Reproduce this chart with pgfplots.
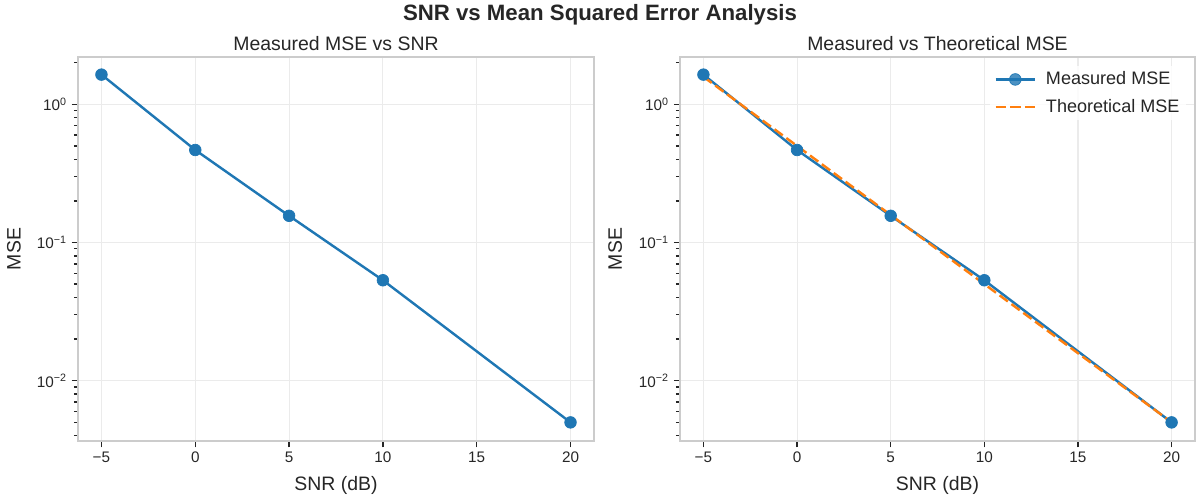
\documentclass[border=0pt]{standalone}
\usepackage{fontspec}
\setmainfont{Liberation Sans}
\usepackage{pgfplots}
\pgfplotsset{compat=1.18}
\definecolor{mblue}{HTML}{1F77B4}
\definecolor{morange}{HTML}{FF7F0E}
\definecolor{txt}{HTML}{262626}
\definecolor{framec}{HTML}{CCCCCC}
\definecolor{gridc}{HTML}{EBEBEB}
\pgfplotstableread{
snr mse
-5 1.64
0 0.467
5 0.156
10 0.0533
20 0.00499
}\measured
\pgfplotstableread{
snr mse
-5 1.5811
0 0.5
5 0.15811
10 0.05
20 0.005
}\theory
\begin{document}
\begin{tikzpicture}
\useasboundingbox (0,0) rectangle (864pt,360pt);
\begin{axis}[
    at={(56.16pt,42.48pt)}, title={Measured MSE vs SNR},
    scale only axis,
    width=371.5pt, height=276.5pt,
    anchor=south west,
    ymode=log,
    xmin=-6.25, xmax=21.25,
    ymin=0.00366, ymax=2.2,
    xtick={-5,0,5,10,15,20},
    xticklabels={−5,0,5,10,15,20},
    ytick={0.01,0.1,1},
    yticklabels={10\textsuperscript{−2},10\textsuperscript{−1},10\textsuperscript{0}},
    minor ytick={0.004,0.005,0.006,0.007,0.008,0.009,0.02,0.03,0.04,0.05,0.06,0.07,0.08,0.09,0.2,0.3,0.4,0.5,0.6,0.7,0.8,0.9,2},
    tick align=outside,
    major tick length=4.5pt,
    minor tick length=3pt,
    tick style={color=txt, line width=0.9pt},
    axis line style={framec, line width=1.2pt},
    xtick pos=bottom, ytick pos=left,
    xmajorgrids, ymajorgrids,
    major grid style={gridc, line width=0.8pt},
    ticklabel style={font=\fontsize{11}{13}\selectfont, text=txt},
    label style={font=\fontsize{14}{16}\selectfont, text=txt},
    title style={font=\fontsize{14}{16}\selectfont, text=txt, at={(axis description cs:0.5,1.036)}, anchor=center, yshift=-6pt},
    xlabel style={at={(axis description cs:0.5,-0.117)}, anchor=center},
    ylabel style={at={(axis description cs:-0.124,0.5)}, anchor=center},
    xlabel={SNR (dB)}, ylabel={MSE},
]
\addplot[mblue, line width=1.75pt, mark=*, mark size=4.2pt, mark options={solid, fill=mblue, draw=mblue, line width=0.5pt}] table[x=snr, y=mse] {\measured};
\end{axis}
\begin{axis}[
    at={(489.6pt,42.48pt)}, title={Measured vs Theoretical MSE},
    scale only axis,
    width=370.8pt, height=276.5pt,
    anchor=south west,
    ymode=log,
    xmin=-6.25, xmax=21.25,
    ymin=0.00366, ymax=2.2,
    xtick={-5,0,5,10,15,20},
    xticklabels={−5,0,5,10,15,20},
    ytick={0.01,0.1,1},
    yticklabels={10\textsuperscript{−2},10\textsuperscript{−1},10\textsuperscript{0}},
    minor ytick={0.004,0.005,0.006,0.007,0.008,0.009,0.02,0.03,0.04,0.05,0.06,0.07,0.08,0.09,0.2,0.3,0.4,0.5,0.6,0.7,0.8,0.9,2},
    tick align=outside,
    major tick length=4.5pt,
    minor tick length=3pt,
    tick style={color=txt, line width=0.9pt},
    axis line style={framec, line width=1.2pt},
    xtick pos=bottom, ytick pos=left,
    xmajorgrids, ymajorgrids,
    major grid style={gridc, line width=0.8pt},
    ticklabel style={font=\fontsize{11}{13}\selectfont, text=txt},
    label style={font=\fontsize{14}{16}\selectfont, text=txt},
    title style={font=\fontsize{14}{16}\selectfont, text=txt, at={(axis description cs:0.5,1.036)}, anchor=center, yshift=-6pt},
    xlabel style={at={(axis description cs:0.5,-0.117)}, anchor=center},
    ylabel style={at={(axis description cs:-0.126,0.5)}, anchor=center},
    xlabel={SNR (dB)}, ylabel={MSE},
    legend style={at={(1,1)}, anchor=north east, xshift=-6pt, yshift=-6.5pt, draw=none, fill=white, fill opacity=0.8, text opacity=1, font=\fontsize{13}{15}\selectfont, text=txt, row sep=5pt, column sep=5pt},
    legend cell align=left,
    legend image code/.code={\draw[mark repeat=2,mark phase=2] plot coordinates {(0cm,0cm)(0.5cm,0cm)(1cm,0cm)};},
]
\addplot[mblue, line width=1.75pt, mark=*, mark size=4.2pt, mark options={solid, fill=mblue, draw=mblue, line width=0.5pt}] table[x=snr, y=mse] {\measured};
\addlegendentry{Measured MSE}
\addplot[morange, line width=1.75pt, dash pattern=on 7.4pt off 3.2pt] table[x=snr, y=mse] {\theory};
\addlegendentry{Theoretical MSE}
\end{axis}
\node[font=\fontsize{16}{18}\selectfont\bfseries, text=txt] at (432pt,349.2pt) {SNR vs Mean Squared Error Analysis};
\end{tikzpicture}
\end{document}
